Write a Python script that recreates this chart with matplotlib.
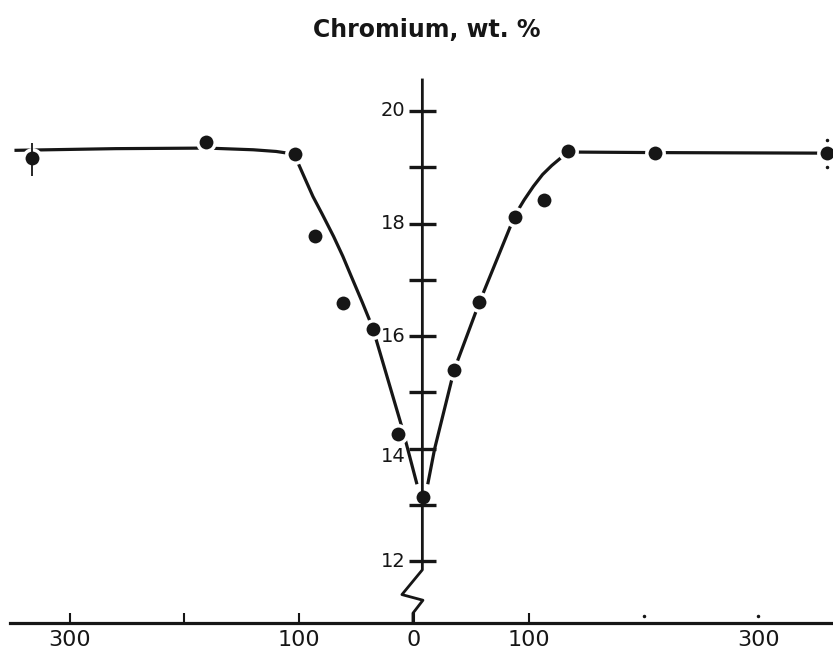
import matplotlib
matplotlib.use('Agg')
from matplotlib import pyplot as plt

# measured points: distance from the centre line, chromium wt.%
pts_x = [-333, -181, -104, -86, -62, -36, -14, 8, 35, 57, 88, 113, 134, 210, 360]
pts_cr = [19.16, 19.45, 19.24, 17.77, 16.58, 16.12, 14.26, 13.15, 15.39, 16.6, 18.12, 18.42, 19.28, 19.26, 19.25]

# hand drawn curve, left and right branch
left_x = [-348, -260, -180, -140, -120, -110, -104, -100, -95, -88, -80, -70, -62, -55, -45, -36, -10, 2.6]
left_cr = [19.30, 19.33, 19.34, 19.31, 19.28, 19.25, 19.22, 19.03, 18.80, 18.48, 18.17, 17.77, 17.42, 17.08, 16.6, 16.15, 14.35, 13.37]
right_x = [12, 18, 35, 57, 88, 96, 104, 112, 120, 127, 134, 210, 360]
right_cr = [13.37, 14.0, 15.4, 16.6, 18.15, 18.42, 18.66, 18.87, 19.03, 19.15, 19.27, 19.26, 19.25]

y_ticks = [12, 13, 14, 15, 16, 17, 18, 19, 20]
y_labels = {12: "12", 14: "14", 16: "16", 18: "18", 20: "20"}
x_ticks = [-300, -200, -100, 0, 100]
x_dots = [200, 300]   # right side ticks are only faint dots
x_labels = {-300: "300", -100: "100", 0: "0", 100: "100", 300: "300"}

ink = '#161616'
x_axis_cr = 10.906   # level of the horizontal axis
v_axis_x = 7.3       # position of the vertical axis

fig = plt.figure(figsize=(8.33, 6.5), dpi=100)
ax = fig.add_axes([0, 0, 1, 1])
ax.set_xlim(-360.6, 365.0)
ax.set_ylim(10.426, 21.97)
ax.axis('off')

# curves, broken round the dots by the white marker edge
ax.plot(left_x, left_cr, color=ink, lw=2.3, zorder=2, solid_capstyle='butt')
ax.plot(right_x, right_cr, color=ink, lw=2.3, zorder=2, solid_capstyle='butt')
ax.plot(pts_x, pts_cr, 'o', ms=12.5, mfc=ink, mec='white', mew=2.5, zorder=3)

# little marks on the end points
ax.vlines(pts_x[0], 18.85, 19.43, color=ink, lw=1.3, zorder=4)
ax.plot([pts_x[-1], pts_x[-1]], [pts_cr[-1] + 0.24, pts_cr[-1] - 0.24], '.', color=ink, ms=3, zorder=4)

# vertical axis with the break
ax.plot([v_axis_x, v_axis_x, -10.5, 7.8, -0.9, -0.9],
        [20.55, 11.85, 11.41, 11.31, 11.08, x_axis_cr], color=ink, lw=2.0, zorder=4)
ax.hlines(y_ticks, v_axis_x - 11.8, v_axis_x + 11.8, color=ink, lw=2.4, zorder=4)
for v, lab in y_labels.items():
    dy = -0.14 if v == 14 else 0
    ax.text(v_axis_x - 14.5, v + dy, lab, ha='right', va='center', fontsize=14, color=ink, zorder=5)

# horizontal axis
ax.plot([-352, 365], [x_axis_cr, x_axis_cr], color=ink, lw=2.3, zorder=4)
ax.vlines(x_ticks, x_axis_cr, x_axis_cr + 0.18, color=ink, lw=1.5, zorder=4)
ax.plot(x_dots, [x_axis_cr + 0.12] * len(x_dots), '.', color=ink, ms=3, zorder=4)
for x, lab in x_labels.items():
    ax.text(x, 10.6, lab, ha='center', va='center', fontsize=16, color=ink)

ax.text(11.3, 21.31, "Chromium, wt. %", ha='center', va='baseline',
        fontsize=17, fontweight='bold', color=ink)

fig.savefig('out.png', dpi=100, facecolor='white')
